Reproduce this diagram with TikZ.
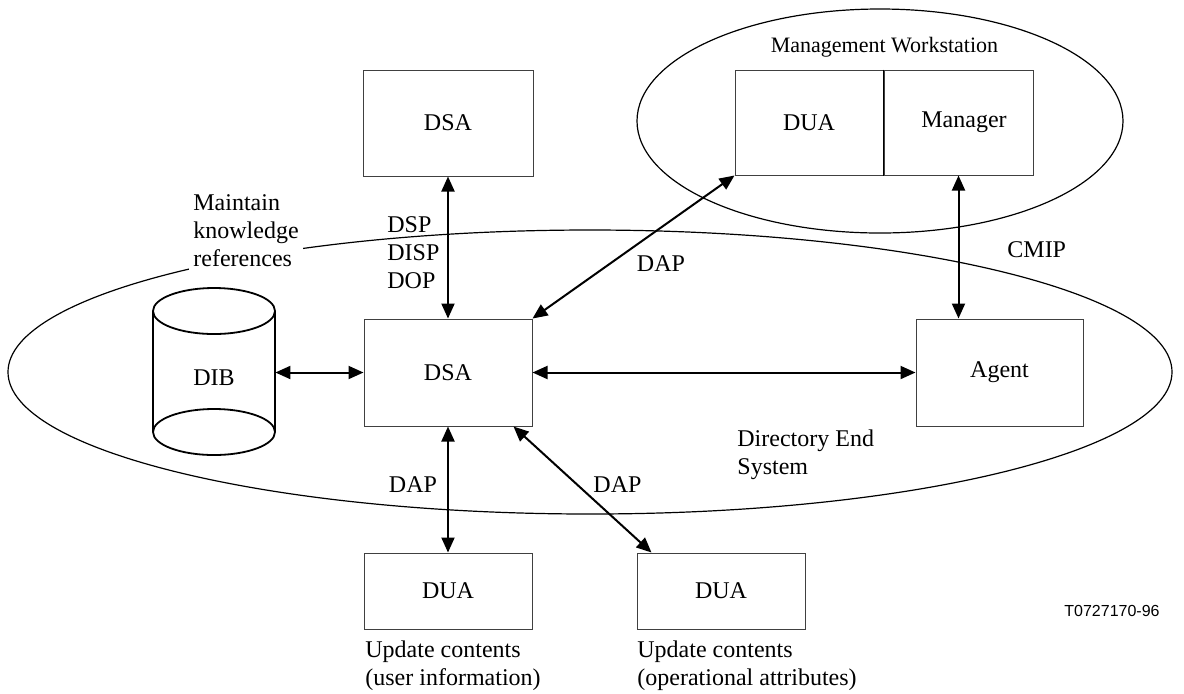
\documentclass[tikz,border=0pt]{standalone}
\usepackage{fontspec}
\setmainfont{Liberation Serif}
\newfontfamily\arialfont{Liberation Sans}
\usetikzlibrary{arrows.meta}
\begin{document}
\begin{tikzpicture}[x=0.5pt,y=-0.5pt,
  box/.style={draw=black!75,line width=0.5pt,inner sep=0pt,font=\fontsize{12}{14}\selectfont},
  conn/.style={line width=1pt,{Triangle[length=7.5pt,width=6.5pt]}-{Triangle[length=7.5pt,width=6.5pt]}},
  lbl/.style={font=\fontsize{12}{14}\selectfont,inner sep=0pt,align=left},
  outline/.style={draw=black,line width=0.6pt},
  cyl/.style={draw=black,line width=0.9pt}]
\useasboundingbox (0,0) rectangle (1184,693);
% enclosing ellipses
\draw[outline] (590,372) ellipse [x radius=291pt,y radius=71pt];
\draw[outline] (880,121) ellipse [x radius=121.5pt,y radius=56pt];
% DIB cylinder
\draw[cyl] (214,311) ellipse [x radius=30.5pt,y radius=11.5pt];
\draw[cyl] (214,432) ellipse [x radius=30.5pt,y radius=11.5pt];
\draw[cyl] (153,311) -- (153,432) (275,311) -- (275,432);
\node[inner sep=0pt,minimum width=61pt,minimum height=60pt,font=\fontsize{12}{14}\selectfont] (dib) at (214,378) {DIB};
% boxes
\node[box,minimum width=85pt,minimum height=53pt] (dsatop) at (448,123) {DSA};
\node[box,minimum width=84pt,minimum height=53.5pt] (dsa) at (448,372.5) {DSA};
\node[box,minimum width=84pt,minimum height=38pt] (duaA) at (448,591) {DUA};
\node[box,minimum width=84pt,minimum height=38pt] (duaB) at (721,591) {DUA};
\node[box,minimum width=83.5pt,minimum height=53.5pt] (agent) at (999.5,372.5) {Agent};
\node[box,minimum width=74pt,minimum height=52.5pt] (wsdua) at (809,122.5) {DUA};
\node[box,minimum width=74.5pt,minimum height=52.5pt,anchor=west] (manager) at (wsdua.east) {\hspace*{5.5pt}\raisebox{3pt}{Manager}};
\draw[black,line width=0.8pt] (wsdua.north east) -- (wsdua.south east);
% connectors
\draw[conn] (dsatop.south) -- (dsa.north);
\draw[conn] (dib.east |- dsa.west) -- (dsa.west);
\draw[conn] (dsa.east) -- (agent.west);
\draw[conn] (dsa.north east) -- (wsdua.south west);
\draw[conn] (manager.south) -- (manager.south |- agent.north);
\draw[conn] (dsa.south) -- (duaA.north);
\draw[conn] ([xshift=-9.5pt]dsa.south east) -- ([xshift=7.5pt]duaB.north west);
% labels
\node[font=\fontsize{11}{13}\selectfont,inner sep=0pt] (mw) at (884.5,47) {Management Workstation};
\node[lbl,anchor=west,fill=white,inner sep=2pt] (mkr) at (189,231) {Maintain\\knowledge\\references};
\node[lbl,anchor=west] (dsp) at (387,253) {DSP\\DISP\\DOP};
\node[lbl] (dap1) at (661,264) {DAP};
\node[lbl,anchor=west] (cmip) at (1007,250) {CMIP};
\node[lbl] (dap2) at (413,485) {DAP};
\node[lbl] (dap3) at (617.5,485) {DAP};
\node[lbl,anchor=west] (des) at (737,455) {Directory End\\System};
\node[lbl,anchor=west] (upd1) at (365,666) {Update contents\\(user information)};
\node[lbl,anchor=west] (upd2) at (637,666) {Update contents\\(operational attributes)};
\node[font=\arialfont\fontsize{8}{10}\selectfont,inner sep=0pt] (fig) at (1112,611) {T0727170-96};
\end{tikzpicture}
\end{document}
